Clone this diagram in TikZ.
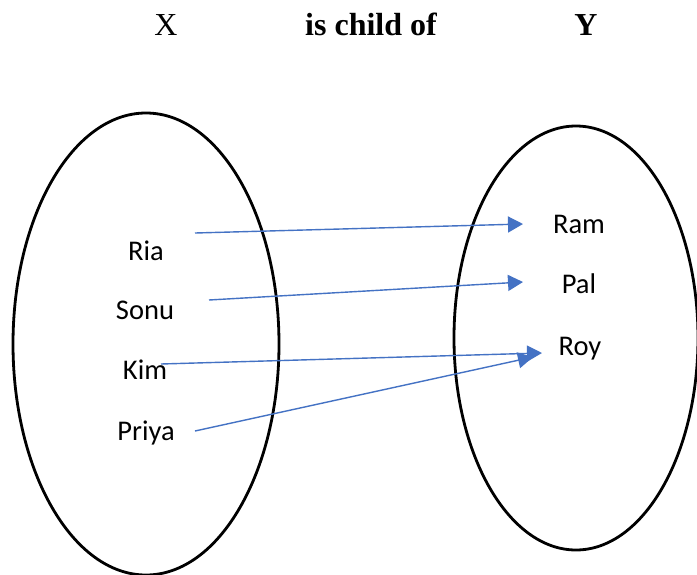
\documentclass[tikz,border=0pt]{standalone}
\usepackage{fontspec}
\setmainfont{Liberation Serif}
\newfontfamily\labelfont{Carlito}
\usetikzlibrary{shapes.geometric,arrows.meta}
\definecolor{linkblue}{HTML}{4472C4}
\begin{document}
\begin{tikzpicture}[x=1pt,y=-1pt,
  setbox/.style={draw=black,ellipse,line width=2.8pt,inner sep=0pt},
  member/.style={font=\labelfont\fontsize{28.5}{32}\selectfont,anchor=base,inner sep=0pt},
  heading/.style={font=\fontsize{32}{36}\selectfont,anchor=base,inner sep=0pt},
  link/.style={draw=linkblue,line width=1.4pt,-{Triangle[length=15pt,width=16pt]}}]
\useasboundingbox (0,0) rectangle (697,574);
\fill[white] (0,0) rectangle (697,574);

% headings
\node[heading] (hx) at (166,35) {X};
\node[heading] (hrel) at (371,35) {\bfseries is child of};
\node[heading] (hy) at (586,35) {\bfseries Y};

% the two sets
\node[setbox,minimum width=266pt,minimum height=462pt] (setX) at (146,344) {};
\node[setbox,minimum width=244pt,minimum height=424pt] (setY) at (576,338) {};

% members of X
\node[member] (ria) at (146,260) {Ria};
\node[member] (sonu) at (145,319) {Sonu};
\node[member] (kim) at (145,379) {Kim};
\node[member] (priya) at (146,440) {Priya};

% members of Y
\node[member] (ram) at (579,233) {Ram};
\node[member] (pal) at (579,293) {Pal};
\node[member] (roy) at (580,355) {Roy};

% connector ends
\coordinate (riaOut) at (195,233);
\coordinate (sonuOut) at (209,300);
\coordinate (kimOut) at (161,364);
\coordinate (priyaOut) at (195,431);
\coordinate (ramIn) at (523,224);
\coordinate (palIn) at (523,282);
\coordinate (royIn) at (542,353);
\coordinate (royIn2) at (533,357);

% the relation
\draw[link] (riaOut) -- (ramIn);
\draw[link] (sonuOut) -- (palIn);
\draw[link] (kimOut) -- (royIn);
\draw[link] (priyaOut) -- (royIn2);
\end{tikzpicture}
\end{document}
